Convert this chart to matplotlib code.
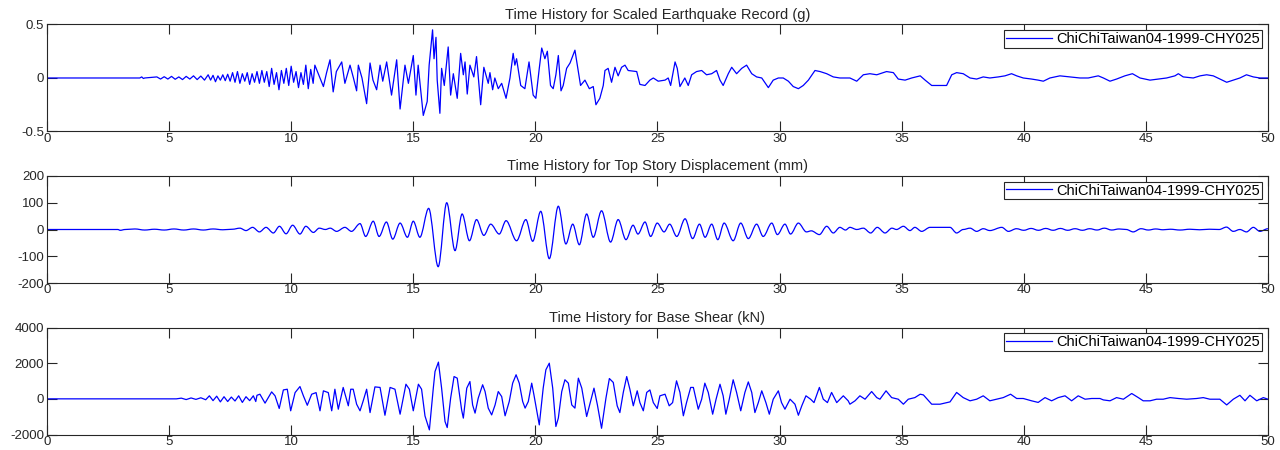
import numpy as np
import matplotlib
matplotlib.use("Agg")
import matplotlib.pyplot as plt
from matplotlib.path import Path
from matplotlib.patches import PathPatch
from matplotlib.lines import Line2D

plt.rcParams['font.family'] = ['Liberation Sans', 'DejaVu Sans']

nazwa = 'ChiChiTaiwan04-1999-CHY025'

# Przyspieszenie gruntu (g) - punkty
t_acc = [0, 3.8, 3.88, 3.95, 4.0, 4.5, 4.65, 4.8, 4.95, 5.1, 5.25, 5.4, 5.55, 5.7, 5.85, 6.0, 6.15, 6.3, 6.45,
         6.6, 6.7, 6.8, 6.9, 7.0, 7.1, 7.2, 7.3, 7.4, 7.5, 7.6, 7.7, 7.8, 7.9, 8.0, 8.1, 8.2, 8.3, 8.4, 8.5,
         8.6, 8.7, 8.8, 8.9, 9.0, 9.1, 9.2, 9.3, 9.4, 9.5, 9.6, 9.7, 9.8, 9.9, 10.0, 10.1, 10.2, 10.3, 10.4,
         10.5, 10.6, 10.7, 10.8, 10.9, 10.97, 11.32, 11.45, 11.59, 11.72, 11.85, 12.07, 12.2, 12.41, 12.55,
         12.68, 12.75, 12.9, 13.09, 13.23, 13.35, 13.5, 13.64, 13.75, 13.91, 14.11, 14.32, 14.46, 14.66, 14.8,
         15.0, 15.11, 15.2, 15.41, 15.57, 15.65, 15.79, 15.85, 15.93, 15.98, 16.09, 16.16, 16.27, 16.43, 16.53,
         16.64, 16.8, 16.94, 17.05, 17.12, 17.21, 17.32, 17.48, 17.59, 17.76, 17.89, 18.07, 18.14, 18.25, 18.34,
         18.48, 18.62, 18.8, 18.96, 19.09, 19.16, 19.23, 19.4, 19.57, 19.74, 19.91, 20.02, 20.16, 20.26, 20.39,
         20.49, 20.62, 20.73, 20.84, 20.94, 21.05, 21.14, 21.28, 21.42, 21.62, 21.76, 21.85, 22.03, 22.21, 22.37,
         22.48, 22.64, 22.78, 22.85, 22.98, 23.12, 23.26, 23.39, 23.53, 23.67, 23.8, 24.15, 24.28, 24.49, 24.69,
         24.83, 25.03, 25.31, 25.44, 25.54, 25.72, 25.81, 25.92, 26.12, 26.26, 26.4, 26.6, 26.81, 27.01, 27.22,
         27.42, 27.56, 27.69, 27.9, 28.04, 28.24, 28.45, 28.65, 28.86, 29.06, 29.27, 29.54, 29.74, 29.95, 30.15,
         30.36, 30.56, 30.77, 30.97, 31.18, 31.45, 31.66, 31.93, 32.2, 32.47, 32.88, 33.16, 33.43, 33.7, 33.98,
         34.38, 34.66, 34.86, 35.14, 35.41, 35.76, 35.96, 36.23, 36.57, 36.84, 37.05, 37.25, 37.52, 37.8, 38.07,
         38.34, 38.61, 38.96, 39.23, 39.5, 39.71, 39.98, 40.32, 40.59, 40.8, 41.07, 41.48, 41.89, 42.3, 42.64,
         43.05, 43.26, 43.53, 43.8, 44.14, 44.45, 44.76, 45.17, 45.51, 45.85, 46.19, 46.33, 46.53, 46.94, 47.22,
         47.49, 47.76, 48.03, 48.31, 48.58, 48.85, 49.12, 49.4, 49.67, 50.0]
a_acc = [0, 0, 0.01, -0.005, 0, 0.01, -0.01, 0.012, -0.01, 0.015, -0.012, 0.01, -0.015, 0.015, -0.01, 0.02, -0.015, 0.018, -0.02,
         0.03, -0.02, 0.025, -0.035, 0.02, -0.02, 0.03, -0.025, 0.035, -0.03, 0.05, -0.04, 0.06, -0.05, 0.04, -0.03, 0.05, -0.06, 0.04, -0.04,
         0.06, -0.05, 0.07, -0.04, 0.06, -0.08, 0.09, -0.06, 0.05, -0.11, 0.07, -0.05, 0.09, -0.07, 0.11, -0.04, 0.06, -0.09, 0.05,
         -0.06, 0.12, -0.10, 0.08, -0.05, 0.12, -0.08, 0.05, 0.17, -0.13, 0.06, 0.15, -0.05, 0.12, 0.0,
         -0.12, 0.12, 0.0, -0.24, 0.14, -0.02, -0.11, 0.12, -0.03, 0.15, -0.16, 0.17, -0.29, 0.12, -0.05,
         0.21, -0.16, 0.12, -0.35, -0.22, 0.12, 0.45, 0.18, 0.38, -0.02, -0.33, 0.09, -0.07, 0.29, -0.16,
         0.04, -0.19, 0.23, 0.03, 0.15, -0.15, 0.12, 0.01, 0.20, -0.25, 0.10, -0.05, 0.05, -0.11, 0.0,
         -0.10, -0.05, -0.19, 0.0, 0.23, 0.12, 0.18, -0.07, -0.10, 0.15, -0.16, -0.19, 0.09, 0.28, 0.18,
         0.25, -0.07, -0.10, 0.03, 0.21, -0.12, -0.07, 0.09, 0.14, 0.26, 0.06, -0.07, -0.02, -0.10, -0.08,
         -0.25, -0.19, -0.07, 0.07, 0.09, -0.04, 0.10, 0.02, 0.10, 0.12, 0.07, 0.06, -0.06, -0.07, -0.02,
         0.0, -0.03, -0.02, 0.0, -0.07, 0.15, 0.09, -0.08, 0.0, -0.07, 0.03, 0.06, 0.07, 0.03, 0.04,
         0.07, -0.02, -0.07, 0.04, 0.10, 0.04, 0.09, 0.12, 0.04, 0.01, 0.0, -0.09, -0.02, 0.0, 0.0,
         -0.03, -0.08, -0.10, -0.07, -0.02, 0.07, 0.06, 0.04, 0.01, 0.0, 0.0, -0.03, 0.03, 0.04, 0.03,
         0.06, 0.05, -0.01, -0.02, 0.0, 0.02, -0.02, -0.07, -0.07, -0.07, 0.03, 0.05, 0.04, 0.0, -0.01,
         0.01, 0.0, 0.01, 0.02, 0.04, 0.02, 0.0, -0.01, -0.02, -0.03, 0.0, 0.02, 0.01, 0.0, 0.0,
         0.02, 0.0, -0.03, -0.01, 0.02, 0.04, 0.0, -0.02, -0.01, 0.0, 0.02, 0.04, 0.01, 0.0, 0.02,
         0.03, 0.02, -0.01, -0.04, -0.02, 0.0, 0.03, 0.01, 0.0, 0.0]

# Przemieszczenie ostatniej kondygnacji (mm) - ekstrema
t_disp = [0, 2.9, 3.0, 3.2, 3.6, 4.0, 4.4, 4.8, 5.2, 5.6, 6.0, 6.4, 6.8, 7.2, 7.6, 7.9, 8.15, 8.42, 8.7, 8.97,
          9.27, 9.52, 9.79, 10.06, 10.36, 10.6, 10.91, 11.15, 11.4, 11.6, 11.86, 12.2, 12.47, 12.82, 13.05,
          13.36, 13.6, 13.9, 14.16, 14.46, 14.76, 15.0, 15.27, 15.63, 16.02, 16.37, 16.71, 17.0, 17.3, 17.59,
          17.89, 18.17, 18.52, 18.8, 19.23, 19.61, 19.89, 20.22, 20.57, 20.94, 21.25, 21.53, 21.8, 22.1, 22.37,
          22.71, 23.08, 23.39, 23.71, 24.0, 24.2, 24.49, 24.72, 24.99, 25.27, 25.5, 25.79, 26.13, 26.44, 26.72,
          26.95, 27.22, 27.47, 27.73, 28.1, 28.41, 28.72, 29.06, 29.33, 29.68, 29.91, 30.22, 30.45, 30.77, 31.1,
          31.3, 31.63, 31.93, 32.2, 32.47, 32.7, 32.88, 33.16, 33.43, 33.73, 34.0, 34.32, 34.6, 34.79, 35.07,
          35.34, 35.54, 35.82, 36.16, 36.98, 37.25, 37.52, 37.8, 38.07, 38.34, 38.61, 39.1, 39.37, 39.7, 40.0,
          40.3, 40.6, 40.9, 41.2, 41.5, 41.8, 42.1, 42.4, 42.7, 43.0, 43.3, 43.6, 43.9, 44.2, 44.48, 44.8,
          45.1, 45.4, 45.7, 46.0, 46.4, 46.8, 47.2, 47.6, 48.0, 48.3, 48.58, 48.85, 49.12, 49.4, 49.67, 50.0]
u_disp = [0, 0, -3, 0, 2, -2, 1, -2, 2, -2, 2, -2, 2, -1, 1, 5, -4, 8, -9, 8,
          -13, 12, -16, 16, -17, 12, -11, 5, 0, 5, -7, 8, -7, 22, -26,
          31, -26, 28, -36, 24, -29, 31, -29, 79, -139, 100, -79, 58, -42, 37,
          -22, 20, -17, 33, -42, 37, -44, 68, -109, 87, -54, 20, -57, 58, -29,
          70, -47, 37, -38, 16, -17, 28, -26, 24, -9, 20, -26, 40, -34, 20,
          -29, 20, -38, 24, -42, 24, -34, 20, -26, 24, -19, 20, -17, 24, -9,
          -5, -19, 12, -13, 8, -2, 8, 0, 5, -13, 8, -13, 5, 0, 12,
          -4, 8, -7, 8, 8, -13, 0, 5, -7, 3, -4, 8, -7, 3, -3,
          4, -3, 4, -3, 4, -3, 3, -3, 3, -2, 5, -2, 2, 0, -9, 3,
          -2, 2, -1, 1, -2, 1, -1, 1, 0, 9, -7, 0, -9, 8, -7, 3]

# Sila tnaca u podstawy (kN)
t_shear = [0, 5.3, 5.5, 5.7, 5.9, 6.1, 6.3, 6.5, 6.65, 6.8, 6.95, 7.1, 7.25, 7.4, 7.55, 7.7, 7.85, 8.0, 8.15,
           8.3, 8.45, 8.55, 8.6, 8.72, 8.93, 9.2, 9.34, 9.51, 9.68, 9.84, 9.98, 10.16, 10.27, 10.36, 10.5,
           10.66, 10.84, 11.02, 11.18, 11.32, 11.52, 11.66, 11.79, 11.93, 12.13, 12.34, 12.44, 12.54, 12.68,
           12.82, 12.95, 13.09, 13.23, 13.43, 13.64, 13.84, 14.05, 14.25, 14.46, 14.7, 14.84, 15.0, 15.21,
           15.34, 15.48, 15.66, 15.82, 15.89, 16.03, 16.16, 16.3, 16.39, 16.53, 16.67, 16.8, 16.98, 17.05,
           17.19, 17.32, 17.43, 17.53, 17.66, 17.84, 17.94, 18.07, 18.21, 18.35, 18.48, 18.62, 18.76, 18.93,
           19.07, 19.21, 19.34, 19.48, 19.58, 19.71, 19.85, 19.94, 20.16, 20.32, 20.43, 20.57, 20.71, 20.84,
           20.94, 21.08, 21.21, 21.35, 21.49, 21.62, 21.76, 21.9, 22.1, 22.26, 22.4, 22.54, 22.71, 22.89,
           23.03, 23.19, 23.35, 23.46, 23.6, 23.74, 23.87, 24.01, 24.17, 24.28, 24.42, 24.56, 24.69, 24.83,
           24.99, 25.1, 25.31, 25.48, 25.62, 25.78, 25.92, 26.06, 26.19, 26.36, 26.47, 26.67, 26.81, 26.94,
           27.08, 27.26, 27.4, 27.56, 27.69, 27.8, 27.94, 28.1, 28.24, 28.41, 28.58, 28.72, 28.86, 28.99,
           29.13, 29.27, 29.44, 29.58, 29.74, 29.95, 30.08, 30.22, 30.43, 30.63, 30.77, 30.91, 31.08, 31.27,
           31.41, 31.63, 31.79, 31.96, 32.13, 32.34, 32.61, 32.81, 32.88, 33.09, 33.29, 33.5, 33.77, 33.98,
           34.11, 34.36, 34.59, 34.86, 35.07, 35.27, 35.54, 35.76, 35.89, 36.23, 36.57, 36.98, 37.25, 37.52,
           37.8, 38.07, 38.34, 38.61, 38.89, 39.16, 39.46, 39.71, 39.98, 40.32, 40.59, 40.87, 41.14, 41.41,
           41.69, 41.96, 42.23, 42.51, 42.78, 43.12, 43.26, 43.53, 43.8, 44.08, 44.42, 44.69, 44.89, 45.17,
           45.44, 45.71, 45.99, 46.33, 46.67, 47.08, 47.35, 47.62, 48.03, 48.31, 48.58, 48.85, 49.06, 49.26,
           49.54, 49.81, 50.0]
v_shear = [0, 0, 40, -40, 50, -30, 60, -50, 170, -100, 150, -170, 120, -150, 100, -120, 170, -200, 120,
           -100, 170, -150, 200, 260, -240, 390, 170, -540, 500, 540, -670, 350, 540, 690, 170,
           -360, 260, 350, -670, 450, 350, -670, 540, -580, 640, -390, 540, 540, -300,
           -670, -110, 540, -770, 670, 640, -920, 640, 540, -860, 820, 540, -670, 820,
           540, -960, -1740, 600, 1530, 2060, 600, -1270, -1610, 40, 1250, 1160, -620, -1080,
           600, 970, -340, -800, 40, 790, 410, -520, -900, -340, 410, 130, -950, -150,
           880, 1350, 880, -150, -520, -150, 880, 230, -1460, 600, 1630, 2000, 600, -1550,
           -1080, 410, 1070, 880, -340, -520, 1160, 600, -990, -150, 600, -340, -1650, 40,
           1140, 920, -390, -770, 360, 1250, 540, -390, 450, -210, -670, 360, 500, -210,
           -540, 170, 260, -390, -210, 1010, 360, -950, -210, 640, 640, -580, -20, 880,
           360, -860, -20, 820, 170, -860, -20, 1070, 360, -670, 360, 950, 360, -770,
           -210, 450, -210, -860, -20, 450, -210, -580, -20, -300, -920, -390, 170, -20,
           -210, 640, -20, -210, 360, -210, 170, -110, -300, -110, 170, -20, 410, 70,
           -20, 450, 70, -20, -300, -20, 70, 260, 220, -300, -300, -170, 360, 70,
           -110, -20, 170, -110, -20, 70, 260, 20, 20, -110, -200, 70, -110, 70,
           170, -110, 170, -20, 20, 20, -60, -110, 70, -20, 300, 70, -110, -110,
           -20, -20, 70, 20, -20, 20, 70, -20, -20, -340, -20, 200, -110, 200,
           -110, 70, -20]

tytuly = ['Time History for Scaled Earthquake Record (g)',
          'Time History for Top Story Displacement (mm)',
          'Time History for Base Shear (kN)']
y_ticks = [[-0.5, 0, 0.5], [-200, -100, 0, 100, 200], [-2000, 0, 2000, 4000]]
y_lims = [(-0.5, 0.5), (-200, 200), (-2000, 4000)]
serie = [(t_acc, a_acc), (t_disp, u_disp), (t_shear, v_shear)]
gladkie = [False, True, False]  # przemieszczenie rysowane gladko przez ekstrema


def gladka_sciezka(t, y):
    # krzywe Beziera z poziomymi stycznymi w ekstremach
    verts = [(t[0], y[0])]
    codes = [Path.MOVETO]
    for k in range(len(t) - 1):
        dt = t[k + 1] - t[k]
        verts += [(t[k] + dt / 3, y[k]), (t[k + 1] - dt / 3, y[k + 1]), (t[k + 1], y[k + 1])]
        codes += [Path.CURVE4] * 3
    return Path(verts, codes)


fig = plt.figure(figsize=(12.8, 4.5), dpi=100)
bottoms = [0.7078, 0.3711, 0.0344]
kolor_osi = '#262626'

for i in range(3):
    ax = fig.add_axes([0.0367, bottoms[i], 0.9539, 0.2378])
    t, y = serie[i]
    if gladkie[i]:
        ax.add_patch(PathPatch(gladka_sciezka(t, y), facecolor='none', edgecolor='blue', linewidth=0.9))
    else:
        ax.plot(t, y, color='blue', linewidth=0.9)
    ax.set_xlim(0, 50)
    ax.set_ylim(*y_lims[i])
    ax.set_xticks(np.arange(0, 51, 5))
    ax.set_yticks(y_ticks[i])
    ax.set_yticklabels([('%g' % v) for v in y_ticks[i]])
    ax.tick_params(direction='in', length=7, width=0.8, top=True, right=True,
                   labelsize=9.5, pad=2, colors=kolor_osi)
    ax.tick_params(axis='x', pad=1)
    for s in ax.spines.values():
        s.set_color(kolor_osi)
        s.set_linewidth(0.8)
    ax.set_title(tytuly[i], fontsize=10.5, pad=4, color=kolor_osi)
    uchwyt = Line2D([], [], color='blue', linewidth=0.9)
    leg = ax.legend([uchwyt], [nazwa], loc='upper right', fontsize=10.5, handlelength=3.15,
                    handletextpad=0.35, borderaxespad=0.4, borderpad=0.12, fancybox=False, framealpha=1)
    leg.get_frame().set_edgecolor(kolor_osi)
    leg.get_frame().set_linewidth(0.8)

plt.savefig('out.png', dpi=100)
